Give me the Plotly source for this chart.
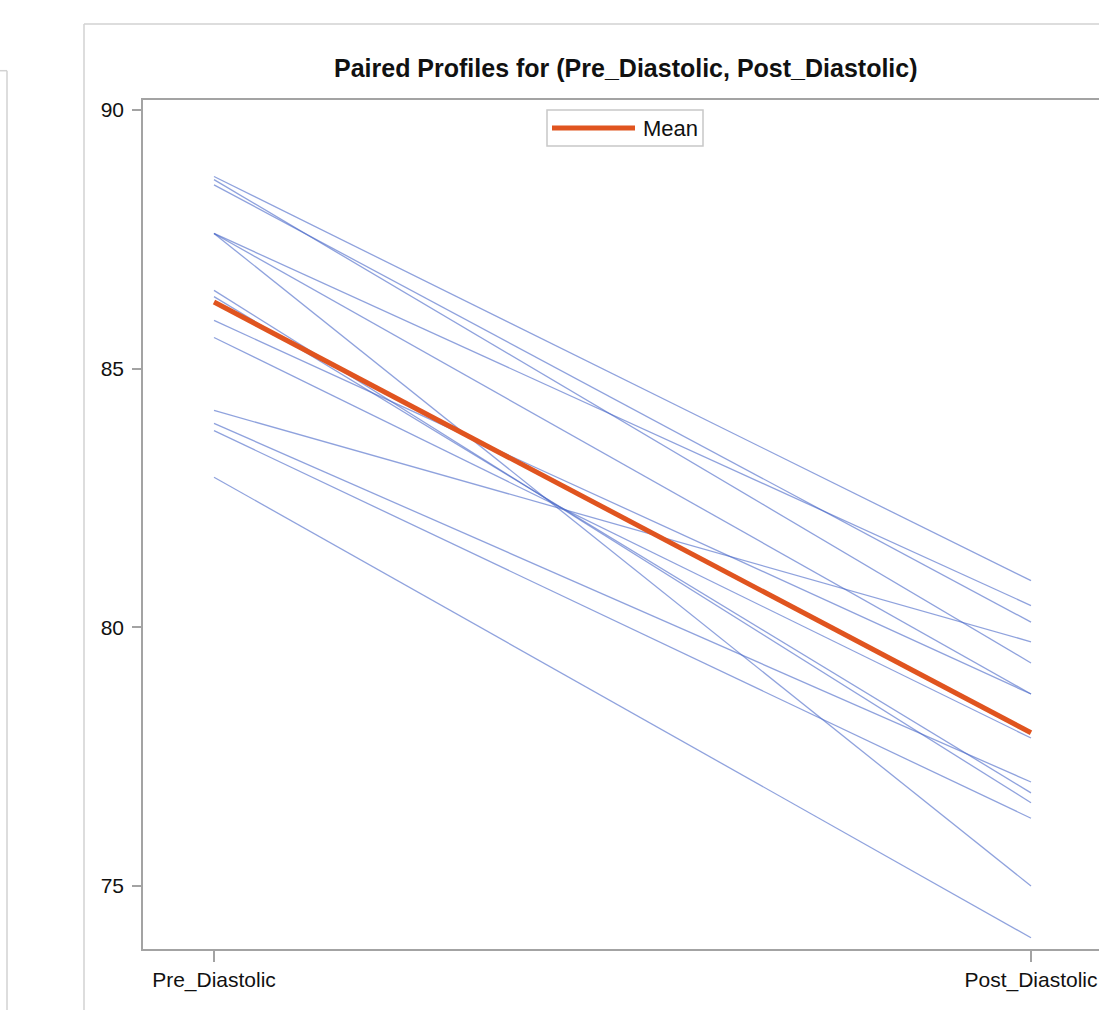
import plotly.graph_objects as go

# ---- data ----
categories = ["Pre_Diastolic", "Post_Diastolic"]
pre_values = [88.71, 88.65, 88.55, 87.61, 87.61, 87.61, 86.51, 86.39, 85.93, 85.60, 84.19, 83.94, 83.80, 82.90]
post_values = [80.90, 79.31, 80.10, 80.42, 78.71, 75.00, 76.61, 76.80, 78.71, 77.86, 79.72, 77.01, 76.31, 74.00]
y_ticks = [75, 80, 85, 90]
title_text = "Paired Profiles for (Pre_Diastolic, Post_Diastolic)"
legend_label = "Mean"

n = len(pre_values)
mean_values = [sum(pre_values) / n, sum(post_values) / n]

W, H = 1099, 1010
L, R, T, B = 143, 1099, 100, 949

def px(x):
    return (x - L) / (R - L)

def py(y):
    return (B - y) / (B - T)

FONT = "Liberation Sans, Arial, sans-serif"
BLUE = "rgba(75,105,200,0.62)"
ORANGE = "#E0541F"
AXIS = "#a3a3a3"
FRAME = "#d2d2d2"

fig = go.Figure()
for a, b in zip(pre_values, post_values):
    fig.add_trace(go.Scatter(x=[0, 1], y=[a, b], mode="lines",
                             line=dict(color=BLUE, width=1.3),
                             showlegend=False, hoverinfo="skip"))
fig.add_trace(go.Scatter(x=[0, 1], y=mean_values, mode="lines", name=legend_label,
                         line=dict(color=ORANGE, width=5), showlegend=False))

x0 = -(214 - L) / 817.0
x1 = x0 + (R - L) / 817.0
fig.update_xaxes(range=[x0, x1], tickvals=[0, 1], ticktext=categories,
                 showgrid=False, zeroline=False, showline=True, linecolor=AXIS,
                 linewidth=1.5, mirror=True, ticks="outside", ticklen=11,
                 tickcolor=AXIS, tickwidth=1.5, ticklabeloverflow="allow",
                 tickfont=dict(family=FONT, size=21, color="#111"))
fig.update_yaxes(range=[73.783, 90.189], tickvals=y_ticks,
                 showgrid=False, zeroline=False, showline=True, linecolor=AXIS,
                 linewidth=1.5, ticks="outside", ticklen=9, tickcolor=AXIS,
                 tickwidth=1.5, ticklabelstandoff=4,
                 tickfont=dict(family=FONT, size=21, color="#111"))

shapes = [
    # right panel frame
    dict(type="line", xref="paper", yref="paper", x0=px(84), x1=px(1099), y0=py(24), y1=py(24),
         line=dict(color=FRAME, width=1.5)),
    dict(type="line", xref="paper", yref="paper", x0=px(84), x1=px(84), y0=py(24), y1=py(1010),
         line=dict(color=FRAME, width=1.5)),
    # left panel frame
    dict(type="line", xref="paper", yref="paper", x0=px(0), x1=px(7), y0=py(70.7), y1=py(70.7),
         line=dict(color=FRAME, width=1.5)),
    dict(type="line", xref="paper", yref="paper", x0=px(7), x1=px(7), y0=py(70.7), y1=py(1010),
         line=dict(color=FRAME, width=1.5)),
    # legend box
    dict(type="rect", xref="paper", yref="paper", x0=px(547), x1=px(703), y0=py(110), y1=py(146),
         line=dict(color="#c8c8c8", width=1.5), fillcolor="white"),
    dict(type="line", xref="paper", yref="paper", x0=px(552), x1=px(635), y0=py(128), y1=py(128),
         line=dict(color=ORANGE, width=5)),
]

annotations = [
    dict(text="<b>" + title_text + "</b>", xref="paper", yref="paper", x=px(626), y=py(68),
         xanchor="center", yanchor="middle", showarrow=False,
         font=dict(family=FONT, size=25, color="#111")),
    dict(text=legend_label, xref="paper", yref="paper", x=px(641), y=py(128),
         xanchor="left", yanchor="middle", showarrow=False,
         font=dict(family=FONT, size=22, color="#111")),
]

fig.update_layout(width=W, height=H, margin=dict(l=L, r=W - R, t=T, b=H - B),
                  plot_bgcolor="white", paper_bgcolor="white",
                  shapes=shapes, annotations=annotations, showlegend=False)

fig.write_html("out.html", config={"displayModeBar": False},
               post_script="document.body.style.margin='0';document.body.style.overflow='hidden';")
